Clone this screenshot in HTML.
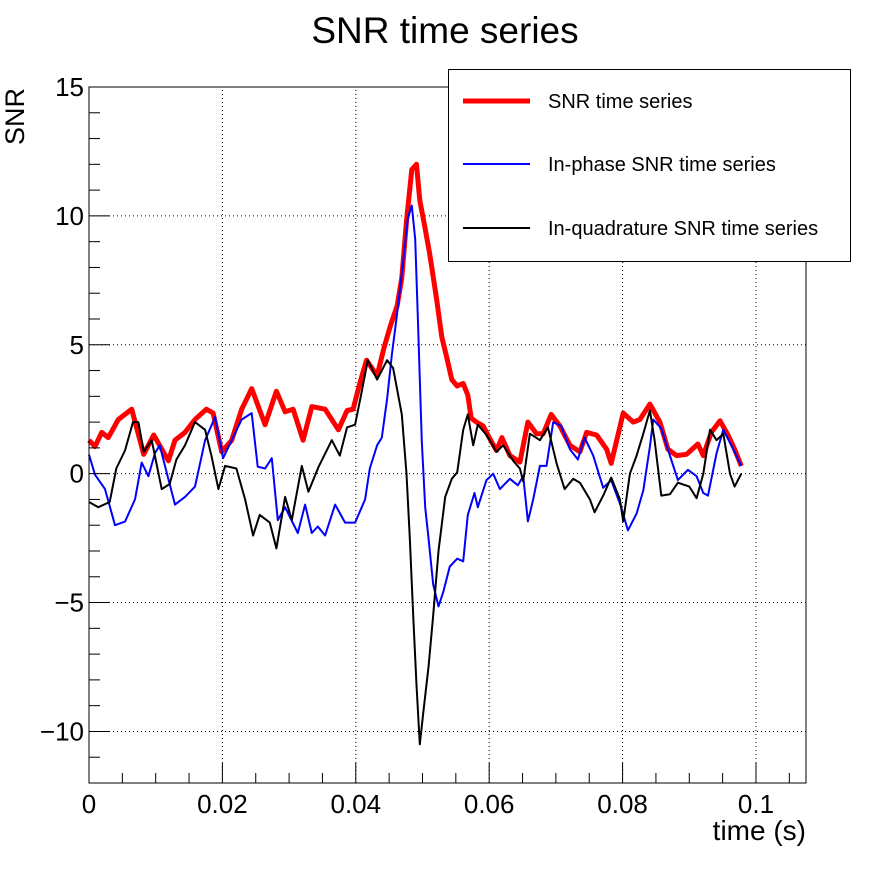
<!DOCTYPE html>
<html><head><meta charset="utf-8">
<style>
html,body{margin:0;padding:0;background:#fff;}
svg{display:block;font-family:"Liberation Sans",sans-serif;}
</style></head>
<body>
<svg id="chart" width="896" height="872" viewBox="0 0 896 872" xmlns="http://www.w3.org/2000/svg">
<rect x="0" y="0" width="896" height="872" fill="#fff"/>
<text x="445" y="43" font-size="37" text-anchor="middle">SNR time series</text>
<g id="grid"></g>
<g id="series"></g>
<rect x="89" y="87" width="717" height="696" fill="none" stroke="#000" stroke-width="1"/>
<g id="axes"></g>
<text transform="translate(24,145) rotate(-90)" font-size="27" text-anchor="start">SNR</text>
<text x="806" y="840" font-size="28" text-anchor="end">time (s)</text>
<g>
<rect x="448.5" y="69.5" width="402" height="192" fill="#fff" stroke="#000" stroke-width="1"/>
<line x1="463" y1="101" x2="530" y2="101" stroke="#ff0000" stroke-width="5"/>
<text x="548" y="108" font-size="20">SNR time series</text>
<line x1="463" y1="164" x2="530" y2="164" stroke="#0000ff" stroke-width="2"/>
<text x="548" y="171" font-size="20">In-phase SNR time series</text>
<line x1="463" y1="228" x2="530" y2="228" stroke="#000" stroke-width="2"/>
<text x="548" y="235" font-size="20">In-quadrature SNR time series</text>
</g>
</svg>
<script>
const xTicks=[0,0.02,0.04,0.06,0.08,0.1];
const xTickLabels=["0","0.02","0.04","0.06","0.08","0.1"];
const yTicks=[-10,-5,0,5,10,15];
const yTickLabels=["\u221210","\u22125","0","5","10","15"];

const snrT=[0,0.0009,0.0019,0.0029,0.0044,0.0064,0.0082,0.0097,0.0119,0.0129,0.0144,0.0159,0.0176,0.0186,0.0199,0.0214,0.0229,0.0244,0.0264,0.0281,0.0294,0.0306,0.0321,0.0334,0.0354,0.0374,0.0387,0.0396,0.0406,0.0416,0.0432,0.0442,0.0452,0.0462,0.0469,0.0476,0.0484,0.0491,0.0496,0.0504,0.0511,0.0521,0.0529,0.0536,0.0544,0.0552,0.0561,0.0568,0.0573,0.0581,0.0591,0.0601,0.0611,0.0619,0.0631,0.0646,0.0658,0.0671,0.0681,0.0693,0.0706,0.0721,0.0736,0.0746,0.0761,0.0776,0.0783,0.0801,0.0816,0.0826,0.0841,0.0856,0.0868,0.0881,0.0896,0.0913,0.0921,0.0933,0.0946,0.0958,0.0968,0.0978];
const snrV=[1.3,1.05,1.6,1.4,2.1,2.5,0.75,1.5,0.5,1.3,1.6,2.1,2.5,2.35,0.85,1.3,2.5,3.3,1.9,3.2,2.4,2.5,1.3,2.6,2.5,1.7,2.45,2.5,3.5,4.4,3.8,4.85,5.75,6.5,7.6,9.8,11.8,12.0,10.6,9.5,8.5,6.8,5.3,4.55,3.65,3.4,3.5,3.05,2.15,2.0,1.85,1.35,0.9,1.4,0.7,0.45,2.0,1.55,1.55,2.3,1.85,1.1,0.85,1.6,1.5,0.95,0.4,2.35,2.0,2.1,2.7,2.0,0.95,0.7,0.75,1.15,0.7,1.6,2.05,1.5,0.95,0.3];

const inPhaseT=[0,0.0009,0.0024,0.0039,0.0054,0.0069,0.0079,0.0089,0.0099,0.0106,0.0117,0.0129,0.0144,0.0159,0.0174,0.0189,0.0201,0.0214,0.0229,0.0244,0.0253,0.0264,0.0274,0.0283,0.0294,0.0313,0.0324,0.0334,0.0343,0.0354,0.0369,0.0384,0.0399,0.0414,0.0421,0.0432,0.0439,0.0447,0.0454,0.0462,0.0471,0.0478,0.0484,0.0489,0.0493,0.0499,0.0504,0.0509,0.0516,0.0524,0.0531,0.0541,0.0552,0.0561,0.0568,0.0578,0.0583,0.0596,0.0606,0.0616,0.0631,0.0643,0.0651,0.0658,0.0666,0.0676,0.0686,0.0696,0.0708,0.0721,0.0733,0.0743,0.0756,0.0771,0.0783,0.0798,0.0808,0.0821,0.0831,0.0841,0.0846,0.0858,0.0871,0.0883,0.0898,0.0911,0.0921,0.0928,0.0941,0.0951,0.0966,0.0978];
const inPhaseV=[0.74,-0.04,-0.6,-2.0,-1.86,-1.0,0.43,-0.1,0.8,1.1,0,-1.2,-0.9,-0.5,1.3,2.2,0.6,1.3,2.1,2.35,0.27,0.2,0.6,-1.8,-1.3,-2.3,-1.2,-2.3,-2.05,-2.4,-1.2,-1.9,-1.9,-1.0,0.2,1.1,1.4,2.9,4.6,6.2,8.2,9.9,10.4,9.1,6.1,1.25,-1.3,-2.5,-4.3,-5.15,-4.6,-3.6,-3.3,-3.4,-1.6,-0.75,-1.3,-0.25,0.0,-0.6,-0.2,-0.45,-0.1,-1.85,-1.0,0.3,0.3,2.0,1.85,0.95,0.55,1.4,0.7,-0.55,-0.25,-1.3,-2.2,-1.55,-0.65,1.05,2.1,1.75,0.7,-0.25,0.15,-0.1,-0.75,-0.85,0.8,1.7,0.95,0.3];

const quadT=[0,0.0014,0.0031,0.0041,0.0054,0.0066,0.0074,0.0082,0.0094,0.0109,0.0121,0.0131,0.0144,0.0159,0.0174,0.0184,0.0194,0.0204,0.0221,0.0234,0.0246,0.0256,0.0271,0.0281,0.0294,0.0304,0.0319,0.0329,0.0344,0.0364,0.0376,0.0387,0.0399,0.0409,0.0418,0.0432,0.0447,0.0456,0.0469,0.0476,0.0481,0.0486,0.0491,0.0496,0.0501,0.0509,0.0516,0.0524,0.0534,0.0544,0.0552,0.0561,0.0568,0.0576,0.0583,0.0596,0.0611,0.0621,0.0636,0.0646,0.0651,0.0661,0.0676,0.0688,0.0701,0.0713,0.0726,0.0736,0.0751,0.0758,0.0771,0.0783,0.0796,0.0801,0.0811,0.0821,0.0831,0.0841,0.0848,0.0858,0.0871,0.0883,0.09,0.0911,0.0921,0.0931,0.0941,0.0951,0.0961,0.0968,0.0978];
const quadV=[-1.1,-1.3,-1.1,0.2,0.9,2.0,2.0,0.85,1.3,-0.6,-0.4,0.55,1.1,2.0,1.7,0.65,-0.6,0.3,0.2,-1.0,-2.4,-1.6,-1.9,-2.9,-0.9,-1.8,0.3,-0.7,0.25,1.3,0.7,1.8,1.9,3.2,4.4,3.65,4.4,4.1,2.3,0,-2.5,-5.5,-8.2,-10.5,-9.3,-7.5,-5.5,-3.0,-0.9,-0.2,0.05,1.7,2.3,1.1,1.9,1.5,0.85,1.1,0.5,0.2,-0.3,1.55,1.3,1.8,0.4,-0.6,-0.2,-0.35,-1.0,-1.5,-0.85,-0.15,-1.0,-1.85,0.0,0.7,1.55,2.45,1.3,-0.85,-0.8,-0.35,-0.5,-0.95,0.0,1.7,1.3,1.55,0.0,-0.5,0.0];

const X0=89,X1=806,Y0=783,Y1=87;
const xMin=0,xMax=0.1075,yMin=-12,yMax=15;
function sx(v){return X0+(v-xMin)/(xMax-xMin)*(X1-X0);}
function sy(v){return Y0-(v-yMin)/(yMax-yMin)*(Y0-Y1);}
const NS="http://www.w3.org/2000/svg";
function mk(tag,attrs,parent){const e=document.createElementNS(NS,tag);for(const k in attrs)e.setAttribute(k,attrs[k]);parent.appendChild(e);return e;}
const grid=document.getElementById('grid'),axes=document.getElementById('axes'),series=document.getElementById('series');

xTicks.forEach((t,i)=>{
  const x=sx(t);
  if(i>0){const g=mk('line',{x1:x,y1:Y0,x2:x,y2:Y1,stroke:'#000','stroke-width':1,'stroke-dasharray':'1,3'},grid);
  
  }
  const tk=mk('line',{x1:x,y1:Y0,x2:x,y2:Y0-20,stroke:'#000','stroke-width':1},axes);
  
  
  const lb=mk('text',{x:x,y:813,'font-size':26,'text-anchor':'middle'},axes);
  lb.textContent=xTickLabels[i];
  
  
});
for(let k=1;k*0.005<xMax;k++){
  if(k%4===0)continue;
  const x=sx(k*0.005);
  const m=mk('line',{x1:x,y1:Y0,x2:x,y2:Y0-10,stroke:'#000','stroke-width':1},axes);
  
  
}
yTicks.forEach((t,i)=>{
  const y=sy(t);
  if(t<yMax){const g=mk('line',{x1:X0,y1:y,x2:X1,y2:y,stroke:'#000','stroke-width':1,'stroke-dasharray':'1,3'},grid);
  
  }
  const tk=mk('line',{x1:X0,y1:y,x2:X0+21,y2:y,stroke:'#000','stroke-width':1},axes);
  
  
  const lb=mk('text',{x:84,y:y+9,'font-size':26,'text-anchor':'end'},axes);
  lb.textContent=yTickLabels[i];
  
  
});
for(let v=yMin;v<=yMax;v++){
  if(v%5===0)continue;
  const y=sy(v);
  const m=mk('line',{x1:X0,y1:y,x2:X0+11,y2:y,stroke:'#000','stroke-width':1},axes);
  
  
}
function drawLine(T,V,color,w,name){
  const d=T.map((t,i)=>(i?'L':'M')+sx(t).toFixed(1)+','+sy(V[i]).toFixed(1)).join(' ');
  const p=mk('path',{d:d,fill:'none',stroke:color,'stroke-width':w,'stroke-linejoin':'round'},series);
  
  
}
drawLine(snrT,snrV,'#ff0000',5,'snr-line');
drawLine(inPhaseT,inPhaseV,'#0000ff',2,'inphase-line');
drawLine(quadT,quadV,'#000000',2,'inquadrature-line');
</script>
</body></html>
